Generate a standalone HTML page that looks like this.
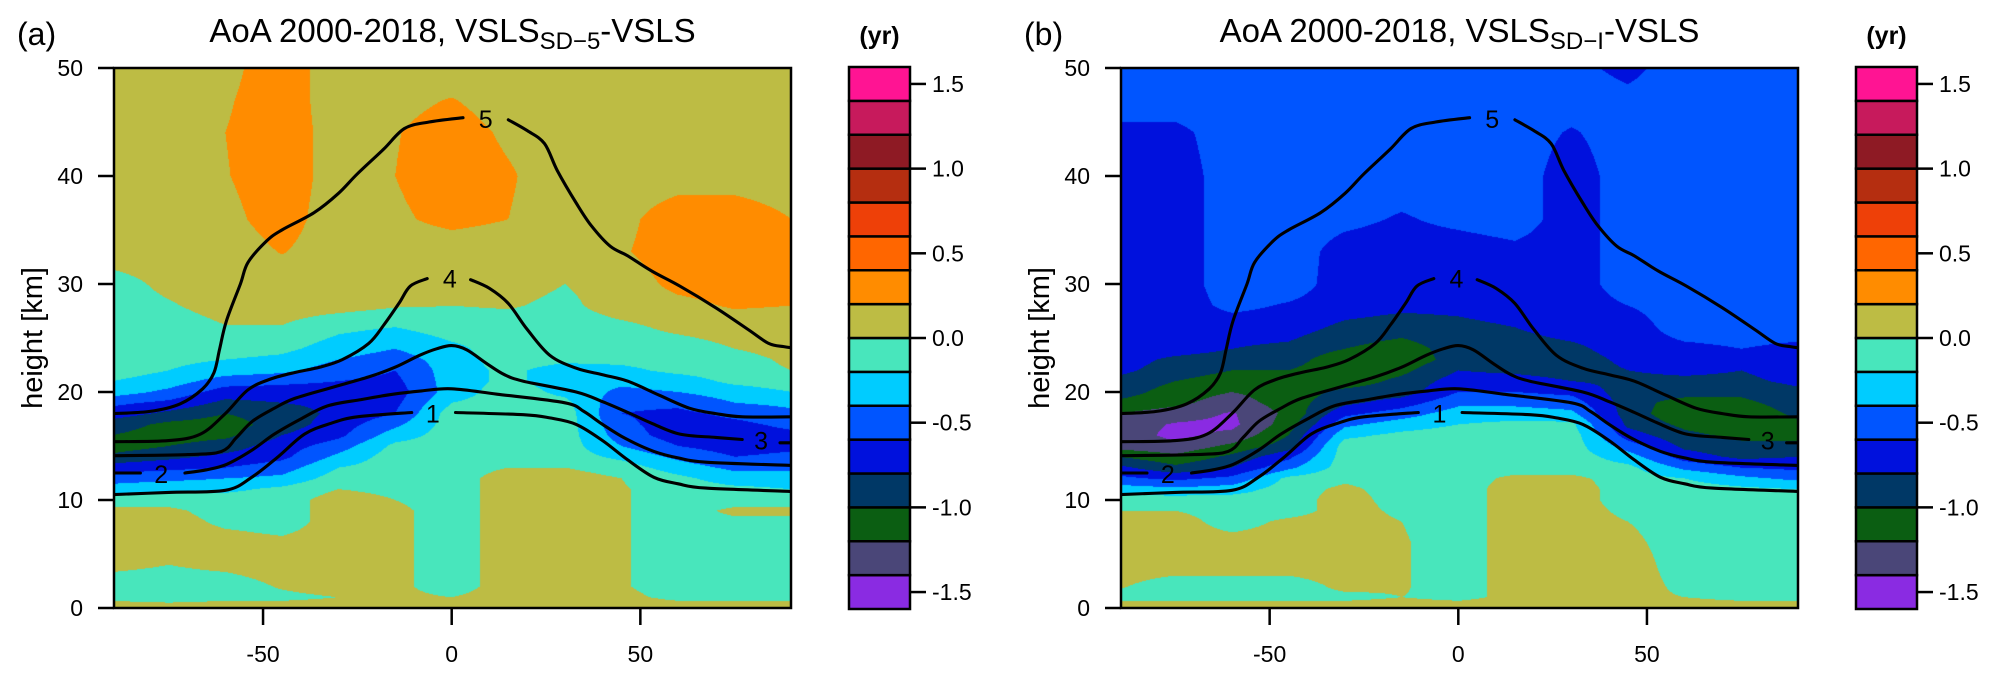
<!DOCTYPE html>
<html><head><meta charset="utf-8">
<style>
html,body{margin:0;padding:0;background:#fff;}
#wrap{position:relative;width:1999px;height:680px;overflow:hidden;background:#fff;}
canvas{position:absolute;}
svg{position:absolute;left:0;top:0;}
text{font-family:"Liberation Sans",sans-serif;fill:#000;}
</style></head>
<body>
<div id="wrap">
<canvas id="cA" width="677" height="540" style="left:114px;top:68px"></canvas>
<canvas id="cB" width="677" height="540" style="left:1121px;top:68px"></canvas>
<svg id="svg" width="1999" height="680"></svg>
</div>
<script>
// ---------- data ----------
const lats = [-90,-75,-60,-45,-30,-15,0,15,30,45,60,75,90];
const heights = [0,1,2,4,6,8,9,10,11,12,13,14,15,16,17,18,19,20,21,22,23,24,26,28,30,33,36,40,44,47,50];
const levelColors = ['#8A2BE2','#4A4678','#0B5E12','#003866','#0011DD','#0055FF','#00CCFF','#48E6BC','#BDBC44','#FF8C00','#FF6600','#EE4008','#B52E10','#8E1A24','#C71A5C','#FF1493'];
const levelMin = -1.6, levelStep = 0.2;
const colorbarTicks = [1.5,1.0,0.5,0.0,-0.5,-1.0,-1.5];
const colorbarTickLabels = ['1.5','1.0','0.5','0.0','-0.5','-1.0','-1.5'];
const xTicks = [-50,0,50];
const yTicks = [0,10,20,30,40,50];

// panel (a) field, rows by height
const fieldA = [
[0.1,0.1,0.1,0.1,0.1,0.1,0.1,0.1,0.1,0.1,0.1,0.1,0.1],
[-0.05,-0.1,-0.05,-0.05,0.0,0.05,0.0,0.1,0.1,0.05,-0.05,-0.05,-0.05],
[-0.1,-0.1,-0.1,0.02,0.1,0.05,-0.1,0.1,0.1,0.02,-0.1,-0.1,-0.1],
[0.05,0.0,0.05,0.1,0.1,0.05,-0.1,0.1,0.1,0.02,-0.1,-0.1,-0.1],
[0.1,0.1,0.1,0.05,0.1,0.05,-0.1,0.1,0.1,0.02,-0.1,-0.1,-0.1],
[0.1,0.1,-0.05,-0.1,0.1,0.05,-0.1,0.1,0.1,0.02,-0.1,-0.05,-0.05],
[0.05,0.05,-0.1,-0.1,0.1,0.05,-0.1,0.1,0.1,0.02,-0.1,0.05,0.05],
[-0.1,-0.1,-0.1,-0.1,0.1,0.0,-0.1,0.1,0.1,0.02,-0.1,-0.1,-0.1],
[-0.3,-0.25,-0.25,-0.15,0.0,-0.05,-0.1,0.1,0.1,0.02,-0.1,-0.15,-0.2],
[-0.5,-0.45,-0.4,-0.35,-0.1,-0.1,-0.1,0.1,0.1,0.0,-0.15,-0.3,-0.3],
[-0.7,-0.65,-0.6,-0.5,-0.2,-0.1,-0.1,0.0,0.0,-0.1,-0.3,-0.45,-0.45],
[-0.95,-0.85,-0.75,-0.65,-0.35,-0.1,-0.1,-0.1,-0.1,-0.25,-0.45,-0.6,-0.55],
[-1.1,-1.0,-0.9,-0.7,-0.5,-0.15,-0.1,-0.1,-0.1,-0.4,-0.6,-0.7,-0.65],
[-1.0,-1.1,-1.05,-0.8,-0.65,-0.3,-0.1,-0.1,-0.1,-0.5,-0.7,-0.7,-0.65],
[-0.9,-1.05,-1.1,-0.9,-0.7,-0.45,-0.1,-0.1,-0.1,-0.55,-0.7,-0.65,-0.55],
[-0.7,-0.85,-1.0,-0.9,-0.75,-0.6,-0.1,-0.1,-0.1,-0.6,-0.65,-0.55,-0.45],
[-0.55,-0.65,-0.85,-0.8,-0.75,-0.65,-0.2,-0.1,-0.15,-0.55,-0.55,-0.4,-0.35],
[-0.3,-0.45,-0.7,-0.7,-0.7,-0.7,-0.3,-0.1,-0.25,-0.45,-0.4,-0.3,-0.2],
[-0.2,-0.3,-0.5,-0.55,-0.6,-0.65,-0.3,-0.15,-0.3,-0.35,-0.3,-0.15,-0.1],
[-0.1,-0.2,-0.3,-0.35,-0.5,-0.6,-0.3,-0.15,-0.3,-0.25,-0.15,-0.1,0.0],
[-0.1,-0.15,-0.2,-0.25,-0.4,-0.5,-0.3,-0.1,-0.15,-0.15,-0.1,-0.1,0.05],
[-0.1,-0.1,-0.1,-0.15,-0.3,-0.4,-0.25,-0.1,-0.1,-0.1,-0.1,0.0,0.1],
[-0.1,-0.1,-0.01,-0.01,-0.15,-0.2,-0.1,-0.1,-0.1,-0.05,0.05,0.1,0.1],
[-0.1,-0.02,0.08,0.1,0.08,0.02,0.0,0.02,-0.05,0.1,0.15,0.22,0.2],
[-0.08,0.05,0.1,0.1,0.1,0.1,0.1,0.08,0.0,0.1,0.25,0.28,0.25],
[0.1,0.1,0.1,0.21,0.1,0.1,0.1,0.1,0.1,0.18,0.3,0.3,0.28],
[0.1,0.1,0.15,0.28,0.1,0.17,0.25,0.2,0.1,0.15,0.3,0.3,0.2],
[0.1,0.1,0.19,0.3,0.12,0.2,0.3,0.22,0.1,0.1,0.12,0.12,0.1],
[0.1,0.1,0.2,0.3,0.12,0.19,0.28,0.17,0.1,0.1,0.1,0.1,0.1],
[0.1,0.1,0.18,0.3,0.1,0.15,0.21,0.12,0.1,0.1,0.1,0.1,0.1],
[0.1,0.1,0.15,0.3,0.1,0.1,0.1,0.1,0.1,0.1,0.1,0.1,0.1]
];

// panel (b) field, columns by latitude
const fieldBcols = [
[0.1,-0.05,0.02,0.1,0.1,0.1,0.0,-0.1, -0.3,-0.55,-0.75,-1.0,-1.3,-1.3,-1.3,-1.2,-1.05,-0.9,-0.85,-0.75,-0.7,-0.7, -0.7,-0.7,-0.7,-0.7,-0.7,-0.7,-0.65,-0.5,-0.5],
[0.1,-0.05,-0.1,0.1,0.1,0.1,0.0,-0.1, -0.35,-0.65,-0.95,-1.15,-1.35,-1.45,-1.42,-1.3,-1.15,-1.1,-1.0,-0.9,-0.85,-0.7, -0.7,-0.7,-0.7,-0.7,-0.7,-0.7,-0.65,-0.5,-0.5],
[0.1,-0.05,-0.1,0.1,0.1,-0.1,-0.1,-0.1, -0.3,-0.55,-0.8,-0.95,-1.15,-1.35,-1.45,-1.42,-1.3,-1.2,-1.1,-1.0,-0.9,-0.8, -0.7,-0.55,-0.5,-0.5,-0.5,-0.5,-0.5,-0.5,-0.5],
[0.1,-0.05,-0.1,0.1,0.1,0.05,-0.1,-0.1, -0.1,-0.15,-0.45,-0.65,-0.9,-1.0,-1.1,-1.15,-1.1,-1.1,-1.1,-1.0,-0.9,-0.85, -0.7,-0.62,-0.5,-0.5,-0.5,-0.5,-0.5,-0.5,-0.5],
[0.1,-0.05,0.05,0.1,0.1,0.1,0.1,0.1, 0.05,-0.05,-0.1,-0.1,-0.1,-0.25,-0.45,-0.65,-0.85,-0.95,-1.1,-1.15,-1.15,-1.0, -0.85,-0.7,-0.7,-0.68,-0.55,-0.5,-0.5,-0.5,-0.5],
[0.1,0.0,0.02,0.02,0.02,0.0,-0.05,-0.1, -0.1,-0.1,-0.1,-0.1,-0.1,-0.15,-0.3,-0.5,-0.7,-0.9,-0.95,-1.05,-1.15,-1.1, -0.9,-0.75,-0.7,-0.7,-0.62,-0.5,-0.5,-0.5,-0.5],
[0.1,-0.05,-0.1,-0.1,-0.1,-0.1,-0.1,-0.1, -0.1,-0.1,-0.1,-0.1,-0.1,-0.1,-0.2,-0.3,-0.45,-0.6,-0.7,-0.8,-0.9,-0.9, -0.85,-0.75,-0.7,-0.7,-0.55,-0.5,-0.5,-0.5,-0.5],
[0.1,0.05,0.1,0.1,0.1,0.1,0.1,0.1, 0.1,0.05,-0.1,-0.1,-0.1,-0.1,-0.15,-0.3,-0.45,-0.6,-0.7,-0.85,-0.9,-0.9, -0.8,-0.7,-0.7,-0.65,-0.5,-0.5,-0.5,-0.5,-0.5],
[0.1,0.05,0.1,0.1,0.1,0.1,0.1,0.1, 0.1,0.05,-0.1,-0.1,-0.1,-0.1,-0.15,-0.35,-0.5,-0.65,-0.8,-0.9,-0.9,-0.85, -0.7,-0.7,-0.7,-0.7,-0.7,-0.7,-0.62,-0.5,-0.55],
[0.1,0.05,0.1,0.1,0.05,0.0,-0.05,-0.1, -0.1,-0.1,-0.15,-0.3,-0.5,-0.7,-0.85,-0.9,-0.9,-0.9,-0.85,-0.8,-0.75,-0.7, -0.7,-0.6,-0.5,-0.5,-0.5,-0.5,-0.5,-0.55,-0.65],
[0.1,0.0,-0.05,-0.1,-0.1,-0.1,-0.1,-0.1, -0.1,-0.2,-0.45,-0.7,-0.85,-0.95,-1.05,-1.15,-1.1,-0.9,-0.85,-0.75,-0.7,-0.65, -0.5,-0.5,-0.5,-0.5,-0.5,-0.5,-0.5,-0.5,-0.5],
[0.1,-0.05,-0.1,-0.1,-0.1,-0.1,-0.1,-0.1, -0.15,-0.35,-0.6,-0.85,-0.95,-1.05,-1.15,-1.15,-1.05,-0.95,-0.85,-0.8,-0.7,-0.6, -0.5,-0.5,-0.5,-0.5,-0.5,-0.5,-0.5,-0.5,-0.5],
[0.1,-0.05,-0.1,-0.1,-0.1,-0.1,-0.1,-0.1, -0.2,-0.45,-0.65,-0.8,-0.95,-1.05,-1.05,-0.95,-0.9,-0.85,-0.75,-0.7,-0.7,-0.65, -0.5,-0.5,-0.5,-0.5,-0.5,-0.5,-0.5,-0.5,-0.5]
];

// mean age contours (lat, height); null breaks line at labels
const contour1Lat = [-90,-75,-60,-53,-46,-39,-32,-25,-10.6,null,1,19,26,33,40,46.7,53.6,60,67.4,90];
const contour1H   = [10.5,10.7,10.9,12.1,14,16.1,17.1,17.7,18.1,null,18.1,17.9,17.6,17,15.5,13.7,12.1,11.5,11.1,10.8];
const contour2Lat = [-90,-82.5,null,-70.7,-65,-59.7,-53,-47,-40,-33,-24,-15.5,-8,0,12,30,35,40,46,53.6,60,67.4,90];
const contour2H   = [12.5,12.5,null,12.5,12.8,13.3,14.6,16.1,17.5,18.7,19.3,19.8,20.1,20.3,19.8,19,18.2,17,15.7,14.5,13.9,13.5,13.2];
const contour3Lat = [-90,-70,-61,-57,-52.8,-47,-41.7,-32,-22,-15,-8.5,-4,0,4,9.4,14,19,33,40,46.7,53,60.5,70,77,null,87,90];
const contour3H   = [14.1,14.2,14.5,15.8,17.3,18.5,19.4,20.4,21.4,22.3,23.4,24,24.3,23.9,22.6,21.6,21,20,19.1,18.1,17.1,16.1,15.8,15.6,null,15.3,15.3];
const contour4Lat = [-90,-75,-66.6,-60,-54,-48,-41.7,-35,-29,-22,-18,-14,-11,-6.5,null,5,10,15,20,26,33,40,46.7,55,63,70,77,90];
const contour4H   = [15.4,15.5,16.1,18,20.2,21.2,21.8,22.3,23,24.5,26.2,28.2,29.8,30.5,null,30.4,29.6,28.2,25.8,23.4,22.2,21.6,21,19.7,18.5,18,17.7,17.7];
const contour5Lat = [-90,-80,-72,-66,-63,-61.5,-59.7,-56,-54,-49,-45,-36.5,-30,-25,-18,-12.5,-6,3,null,15,20,24.6,28,33,37,42,46.7,53,60.5,70,78.5,84,88,90];
const contour5H   = [18,18.2,18.9,20.3,21.8,24,26.6,30,32,34,35,36.6,38.4,40.2,42.5,44.4,45,45.4,null,45.2,44.2,43,40.5,37.5,35.4,33.5,32.6,31.2,29.8,27.8,25.8,24.5,24.2,24.1];
const contourLabels = ['1','2','3','4','5'];
const contourLabelLat = [-5,-77,82,-0.5,9];
const contourLabelH = [18,12.4,15.5,30.5,45.3];

// ---------- geometry ----------
const plotTop = 68, plotBottom = 608, plotH = 540;
const panels = [
  {id:'a', canvas:'cA', left:114, right:791, zero:451.7, cbLeft:849, field:null, tag:'(a)', sub:'SD\u22125'},
  {id:'b', canvas:'cB', left:1121, right:1798, zero:1458.3, cbLeft:1856, field:null, tag:'(b)', sub:'SD\u2212I'}
];
const degPx = 3.773, kmPx = 10.8;
panels[0].field = fieldA;
panels[1].field = heights.map((_,r)=>lats.map((_,c)=>fieldBcols[c][r]));

function xOf(p,lat){return p.zero + lat*degPx;}
function yOf(h){return plotBottom - h*kmPx;}
function hexRgb(h){return [parseInt(h.slice(1,3),16),parseInt(h.slice(3,5),16),parseInt(h.slice(5,7),16)];}
const rgbs = levelColors.map(hexRgb);
function findIdx(arr,v){for(let i=0;i<arr.length-1;i++){if(v<=arr[i+1])return i;}return arr.length-2;}
function sample(field,lat,h){
  lat=Math.max(lats[0],Math.min(lats[lats.length-1],lat));
  h=Math.max(heights[0],Math.min(heights[heights.length-1],h));
  const c=findIdx(lats,lat), r=findIdx(heights,h);
  const tx=(lat-lats[c])/(lats[c+1]-lats[c]), ty=(h-heights[r])/(heights[r+1]-heights[r]);
  const v00=field[r][c],v01=field[r][c+1],v10=field[r+1][c],v11=field[r+1][c+1];
  return (v00*(1-tx)+v01*tx)*(1-ty)+(v10*(1-tx)+v11*tx)*ty;
}

// ---------- fill ----------
panels.forEach(p=>{
  const cv=document.getElementById(p.canvas);const ctx=cv.getContext('2d');
  const W=cv.width,H=cv.height;const img=ctx.createImageData(W,H);
  for(let py=0;py<H;py++){
    const h=(plotBottom-(plotTop+py+0.5))/kmPx;
    for(let px=0;px<W;px++){
      const lat=(p.left+px+0.5-p.zero)/degPx;
      const v=sample(p.field,lat,h);
      let i=Math.floor((v-levelMin)/levelStep+1e-9);i=Math.max(0,Math.min(15,i));
      const k=(py*W+px)*4;const c=rgbs[i];
      img.data[k]=c[0];img.data[k+1]=c[1];img.data[k+2]=c[2];img.data[k+3]=255;
    }
  }
  ctx.putImageData(img,0,0);
});

// ---------- svg ----------
const NS='http://www.w3.org/2000/svg';
const svg=document.getElementById('svg');
function mk(tag,attrs,parent){const e=document.createElementNS(NS,tag);for(const k in attrs)e.setAttribute(k,attrs[k]);(parent||svg).appendChild(e);return e;}
function smoothPath(pts){
  if(pts.length<2)return '';
  let d='M'+pts[0][0].toFixed(1)+','+pts[0][1].toFixed(1);
  for(let i=0;i<pts.length-1;i++){
    const p0=pts[i-1]||pts[i],p1=pts[i],p2=pts[i+1],p3=pts[i+2]||p2;
    const c1=[p1[0]+(p2[0]-p0[0])/6,p1[1]+(p2[1]-p0[1])/6];
    const c2=[p2[0]-(p3[0]-p1[0])/6,p2[1]-(p3[1]-p1[1])/6];
    d+='C'+c1[0].toFixed(1)+','+c1[1].toFixed(1)+' '+c2[0].toFixed(1)+','+c2[1].toFixed(1)+' '+p2[0].toFixed(1)+','+p2[1].toFixed(1);
  }
  return d;
}
const contourSets=[[contour1Lat,contour1H],[contour2Lat,contour2H],[contour3Lat,contour3H],[contour4Lat,contour4H],[contour5Lat,contour5H]];

panels.forEach((p,pi)=>{
  const g=mk('g',{});
  
  
  const clip=mk('clipPath',{id:'clip'+p.id},g);
  mk('rect',{x:p.left,y:plotTop,width:p.right-p.left,height:plotH},clip);
  const cg=mk('g',{'clip-path':'url(#clip'+p.id+')'},g);
  
  
  contourSets.forEach((cs,ci)=>{
    let seg=[];const segs=[];
    for(let i=0;i<cs[0].length;i++){
      if(cs[0][i]===null){segs.push(seg);seg=[];continue;}
      seg.push([xOf(p,cs[0][i]),yOf(cs[1][i])]);
    }
    segs.push(seg);
    segs.forEach(s=>{
      const path=mk('path',{d:smoothPath(s),fill:'none',stroke:'#000','stroke-width':3.1,'stroke-linecap':'round'},cg);
      
      
    });
    const t=mk('text',{x:xOf(p,contourLabelLat[ci]),y:yOf(contourLabelH[ci])+9,'font-size':25,'text-anchor':'middle',fill:'#222'},cg);
    
    
    t.textContent=contourLabels[ci];
  });
  const fr=mk('rect',{x:p.left,y:plotTop,width:p.right-p.left,height:plotH,fill:'none',stroke:'#000','stroke-width':2.5},g);
  
  
  yTicks.forEach(v=>{
    const y=yOf(v);
    const l=mk('line',{x1:p.left-16,x2:p.left,y1:y,y2:y,stroke:'#000','stroke-width':2.5},g);
    
    
    const t=mk('text',{x:p.left-31,y:y+8,'font-size':23,'text-anchor':'end'},g);
    
    
    t.textContent=String(v);
  });
  xTicks.forEach(v=>{
    const x=xOf(p,v);
    const l=mk('line',{x1:x,x2:x,y1:plotBottom,y2:plotBottom+17,stroke:'#000','stroke-width':2.5},g);
    
    
    const t=mk('text',{x:x,y:662,'font-size':23,'text-anchor':'middle'},g);
    
    
    t.textContent=String(v);
  });
  const yt=mk('text',{x:0,y:0,'font-size':29,'text-anchor':'middle',transform:'translate('+(p.left-72)+','+338+') rotate(-90)'},g);
  
  
  yt.textContent='height [km]';
  const tt=mk('text',{x:(p.left+p.right)/2,y:42,'font-size':33,'text-anchor':'middle'},g);
  
  
  const s1=mk('tspan',{},tt);s1.textContent='AoA 2000-2018, VSLS';
  const s2=mk('tspan',{'font-size':24,dy:7},tt);s2.textContent=p.sub;
  const s3=mk('tspan',{dy:-7},tt);s3.textContent='-VSLS';
  const tg=mk('text',{x:p.left-97,y:45,'font-size':32},g);
  
  
  tg.textContent=p.tag;
  const cb=mk('g',{},g);
  
  
  const cbTop=67,cbBot=609,cbW=61,n=levelColors.length,bh=(cbBot-cbTop)/n;
  for(let i=0;i<n;i++){
    const r=mk('rect',{x:p.cbLeft,y:cbTop+(n-1-i)*bh,width:cbW,height:bh,fill:levelColors[i],stroke:'#000','stroke-width':2.5},cb);
    
    
  }
  colorbarTicks.forEach((v,i)=>{
    const y=cbTop+(1.6-v)/3.2*(cbBot-cbTop);
    const l=mk('line',{x1:p.cbLeft+cbW,x2:p.cbLeft+cbW+16,y1:y,y2:y,stroke:'#000','stroke-width':2.5},cb);
    
    
    const t=mk('text',{x:p.cbLeft+cbW+22,y:y+8,'font-size':23},cb);
    
    
    t.textContent=colorbarTickLabels[i];
  });
  const u=mk('text',{x:p.cbLeft+cbW/2,y:44,'font-size':25,'font-weight':'bold','text-anchor':'middle'},cb);
  
  
  u.textContent='(yr)';
});
</script>
</body></html>
